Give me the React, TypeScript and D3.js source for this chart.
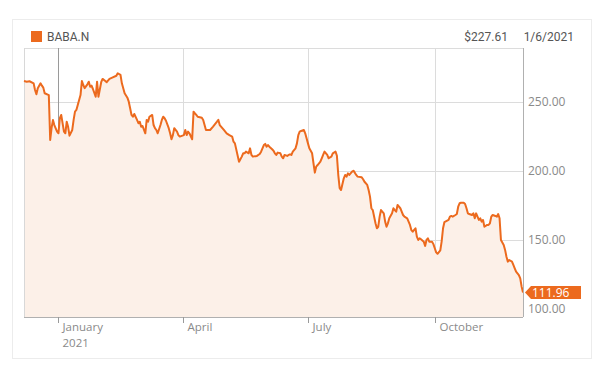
import React from 'react';
import * as d3 from 'd3';

const dates = [
  '2020-12-07','2020-12-09','2020-12-11','2020-12-14','2020-12-15','2020-12-16','2020-12-17','2020-12-19','2020-12-20','2020-12-21',
  '2020-12-22','2020-12-25','2020-12-26','2020-12-27','2020-12-28','2020-12-29','2020-12-31','2021-01-01','2021-01-02','2021-01-03',
  '2021-01-05','2021-01-06','2021-01-07','2021-01-08','2021-01-09','2021-01-11','2021-01-12','2021-01-13','2021-01-14','2021-01-15',
  '2021-01-17','2021-01-18','2021-01-19','2021-01-20','2021-01-22','2021-01-23','2021-01-24','2021-01-25','2021-01-26','2021-01-28',
  '2021-01-29','2021-01-30','2021-02-01','2021-02-02','2021-02-04','2021-02-05','2021-02-07','2021-02-09','2021-02-12','2021-02-13',
  '2021-02-15','2021-02-16','2021-02-18','2021-02-20','2021-02-21','2021-02-22','2021-02-23','2021-02-24','2021-02-25','2021-02-27',
  '2021-02-28','2021-03-01','2021-03-02','2021-03-03','2021-03-05','2021-03-06','2021-03-07','2021-03-08','2021-03-10','2021-03-11',
  '2021-03-12','2021-03-13','2021-03-14','2021-03-16','2021-03-17','2021-03-18','2021-03-19','2021-03-20','2021-03-22','2021-03-23',
  '2021-03-24','2021-03-25','2021-03-26','2021-03-28','2021-03-29','2021-03-30','2021-04-02','2021-04-03','2021-04-04','2021-04-05',
  '2021-04-06','2021-04-08','2021-04-09','2021-04-10','2021-04-11','2021-04-12','2021-04-15','2021-04-16','2021-04-17','2021-04-18',
  '2021-04-21','2021-04-23','2021-04-26','2021-04-27','2021-04-28','2021-05-01','2021-05-03','2021-05-05','2021-05-07','2021-05-08',
  '2021-05-09','2021-05-12','2021-05-14','2021-05-15','2021-05-16','2021-05-17','2021-05-19','2021-05-20','2021-05-21','2021-05-22',
  '2021-05-25','2021-05-27','2021-05-28','2021-05-30','2021-05-31','2021-06-01','2021-06-02','2021-06-03','2021-06-05','2021-06-06',
  '2021-06-07','2021-06-08','2021-06-09','2021-06-11','2021-06-12','2021-06-13','2021-06-14','2021-06-16','2021-06-17','2021-06-18',
  '2021-06-19','2021-06-20','2021-06-22','2021-06-23','2021-06-24','2021-06-25','2021-06-26','2021-06-28','2021-06-29','2021-06-30',
  '2021-07-01','2021-07-02','2021-07-04','2021-07-05','2021-07-06','2021-07-07','2021-07-08','2021-07-10','2021-07-11','2021-07-12',
  '2021-07-13','2021-07-15','2021-07-16','2021-07-17','2021-07-18','2021-07-19','2021-07-21','2021-07-22','2021-07-23','2021-07-24',
  '2021-07-25','2021-07-27','2021-07-28','2021-07-29','2021-07-30','2021-07-31','2021-08-02','2021-08-03','2021-08-04','2021-08-05',
  '2021-08-06','2021-08-09','2021-08-10','2021-08-11','2021-08-13','2021-08-14','2021-08-15','2021-08-16','2021-08-17','2021-08-19',
  '2021-08-20','2021-08-21','2021-08-22','2021-08-23','2021-08-25','2021-08-26','2021-08-27','2021-08-28','2021-08-29','2021-08-31',
  '2021-09-01','2021-09-02','2021-09-03','2021-09-04','2021-09-06','2021-09-07','2021-09-08','2021-09-09','2021-09-11','2021-09-12',
  '2021-09-13','2021-09-14','2021-09-15','2021-09-17','2021-09-18','2021-09-19','2021-09-20','2021-09-21','2021-09-23','2021-09-24',
  '2021-09-25','2021-09-26','2021-09-27','2021-09-29','2021-09-30','2021-10-01','2021-10-02','2021-10-03','2021-10-05','2021-10-06',
  '2021-10-07','2021-10-08','2021-10-10','2021-10-11','2021-10-12','2021-10-13','2021-10-14','2021-10-16','2021-10-17','2021-10-18',
  '2021-10-19','2021-10-20','2021-10-22','2021-10-23','2021-10-24','2021-10-25','2021-10-26','2021-10-28','2021-10-29','2021-10-30',
  '2021-10-31','2021-11-02','2021-11-03','2021-11-04','2021-11-05','2021-11-06','2021-11-08','2021-11-09','2021-11-10','2021-11-11',
  '2021-11-12','2021-11-14','2021-11-15','2021-11-16','2021-11-17','2021-11-18','2021-11-20','2021-11-21','2021-11-22','2021-11-23',
  '2021-11-24','2021-11-26','2021-11-27','2021-11-28','2021-11-29','2021-12-01','2021-12-02','2021-12-03','2021-12-04',
];

const prices = [
  265.2,264.7,265.0,263.5,258.7,255.6,260.0,263.5,261.8,260.4,
  256.3,255.0,222.5,231.0,237.0,233.3,228.5,227.3,238.2,240.6,
  228.5,227.3,235.7,232.0,225.6,229.7,237.0,243.0,244.2,247.8,
  255.0,265.2,262.3,260.0,262.8,264.7,261.0,261.8,259.4,253.8,
  264.7,253.8,264.3,266.7,265.2,264.3,266.7,267.6,269.0,270.8,
  269.6,263.5,256.3,253.1,250.2,245.4,240.6,239.3,241.3,237.0,
  234.6,235.7,232.0,232.6,227.3,237.0,235.7,239.3,240.6,233.3,
  231.0,229.7,227.3,233.3,237.0,239.3,238.2,236.4,231.0,227.3,
  223.0,226.0,231.0,228.5,226.0,224.9,226.0,229.7,226.0,228.5,
  227.3,223.0,243.0,241.8,240.6,239.3,238.6,237.0,233.3,229.7,
  229.7,232.0,235.7,237.0,233.3,229.7,227.3,226.0,224.9,221.2,
  220.0,206.7,210.4,212.8,212.8,214.0,212.8,216.4,211.6,210.4,
  210.9,212.3,214.0,218.8,219.6,217.6,218.8,217.6,215.7,214.7,
  212.8,211.6,213.3,212.8,210.4,209.2,211.6,210.9,211.6,212.1,
  211.6,214.0,216.4,220.0,226.0,228.5,229.0,229.7,227.3,223.7,
  220.0,216.4,212.8,205.6,198.8,203.2,204.3,206.7,209.2,211.6,
  214.0,211.6,209.2,209.9,210.4,212.8,214.0,211.0,197.0,187.5,
  186.2,194.7,197.1,195.9,198.3,197.1,199.5,200.2,198.8,197.1,
  195.9,195.4,194.0,192.2,189.9,186.2,181.4,173.0,171.7,162.1,
  158.5,159.6,166.9,171.7,169.3,163.3,159.6,162.1,165.7,169.3,
  173.0,171.7,170.5,175.4,173.0,170.5,168.1,166.9,165.7,163.3,
  160.9,157.2,156.0,158.5,152.4,150.0,151.2,150.5,148.8,145.7,
  150.0,151.2,148.8,148.8,147.0,144.0,141.0,140.0,142.5,149.0,
  158.5,163.0,164.0,164.5,166.9,167.4,166.9,168.1,168.8,174.1,
  176.6,177.0,177.0,176.1,173.0,169.3,168.8,168.1,169.3,165.7,
  169.3,164.5,165.7,163.3,164.5,159.6,160.9,160.9,162.1,166.9,
  168.1,167.4,166.9,168.8,165.7,150.0,146.4,142.8,137.9,134.3,
  135.5,134.3,131.9,129.5,127.0,124.6,122.2,116.2,111.96,
];

const yTicks = [100, 150, 200, 250];
const xTickDates = ['2021-01-01', '2021-04-01', '2021-07-01', '2021-10-01'];
const xTickLabels = [['January', '2021'], ['April'], ['July'], ['October']];
const seriesName = 'BABA.N';
const hoverPrice = '$227.61';
const hoverDate = '1/6/2021';

export default function App() {
  const parse = d3.utcParse('%Y-%m-%d');
  const data = dates.map((d, i) => ({ date: parse(d) as Date, v: prices[i] }));
  const left = 24, right = 523, top = 48, bottom = 317;
  const x = d3.scaleUtc()
    .domain(d3.extent(data, d => d.date) as [Date, Date])
    .range([left, right]);
  const y = d3.scaleLinear().domain([94.2, 289.1]).range([bottom, top]);

  const line = d3.line<{ date: Date; v: number }>()
    .x(d => x(d.date))
    .y(d => y(d.v));
  const area = d3.area<{ date: Date; v: number }>()
    .x(d => x(d.date))
    .y0(bottom)
    .y1(d => y(d.v));

  const last = data[data.length - 1];
  const ly = y(last.v);
  const orange = '#ec6a1e';
  const labelFont = "'Open Sans', 'Segoe UI', sans-serif";

  return (
    <svg width={600} height={371} style={{ position: 'absolute', left: 0, top: 0 }}>
      <rect x={0} y={0} width={600} height={371} fill="#fff" />
      <rect x={12.5} y={19.5} width={579} height={339} fill="#fff" stroke="#ececec" />
      {/* header */}
      <rect x={31} y={31} width={11} height={11} fill={orange} />
      <text x={47} y={41} fontFamily="Roboto, sans-serif" fontSize={12} fill="#555">{seriesName}</text>
      <text x={508} y={41} textAnchor="end" fontFamily="Roboto, sans-serif" fontSize={12} fill="#555">{hoverPrice}</text>
      <text x={574} y={41} textAnchor="end" fontFamily="Roboto, sans-serif" fontSize={12} fill="#555">{hoverDate}</text>

      {/* grid */}
      <rect x={left} y={top} width={right - left} height={bottom - top} fill="#fff" />
      <line x1={left} x2={right} y1={top + 0.5} y2={top + 0.5} stroke="#dcdcdc" />
      {yTicks.map(t => (
        <line key={'gy' + t} x1={left} x2={right} y1={Math.round(y(t)) + 0.5} y2={Math.round(y(t)) + 0.5} stroke="#dcdcdc" />
      ))}
      {xTickDates.map((d, i) => {
        const xx = Math.round(x(parse(d) as Date)) + 0.5;
        return <line key={'gx' + d} x1={xx} x2={xx} y1={top} y2={bottom} stroke={i === 0 ? '#9a9a9a' : '#dcdcdc'} />;
      })}

      {/* area + line */}
      <path d={area(data) || ''} fill="#fcf0e8" />
      <line x1={left + 0.5} x2={left + 0.5} y1={top} y2={bottom} stroke="#d8d8d8" />
      <path d={line(data) || ''} fill="none" stroke={orange} strokeWidth={2} strokeLinejoin="round" />

      {/* axes */}
      <line x1={left} x2={right} y1={bottom + 0.5} y2={bottom + 0.5} stroke="#b0b0b0" />
      <line x1={right + 0.5} x2={right + 0.5} y1={top} y2={bottom} stroke="#b0b0b0" />
      {xTickDates.map((d, i) => {
        const xx = Math.round(x(parse(d) as Date)) + 0.5;
        return (
          <g key={'xt' + d}>
            <line x1={xx} x2={xx} y1={bottom} y2={bottom + 6} stroke="#9a9a9a" />
            {xTickLabels[i].map((s, j) => (
              <text key={s} x={xx + 4} y={bottom + 14 + j * 16} fontFamily={labelFont} fontSize={11.5} fill="#8a8a8a">{s}</text>
            ))}
          </g>
        );
      })}
      {yTicks.map(t => (
        <text key={'yt' + t} x={528} y={y(t)} dy="0.35em" fontFamily={labelFont} fontSize={12} fill="#8a8a8a">{t.toFixed(2)}</text>
      ))}

      {/* last value label */}
      <path d={`M${right + 2},${ly} L${right + 8},${ly - 6.5} L${right + 58},${ly - 6.5} L${right + 58},${ly + 6.5} L${right + 8},${ly + 6.5} Z`} fill={orange} />
      <text x={right + 9} y={ly} dy="0.36em" fontFamily={labelFont} fontSize={12} fill="#fff">{last.v.toFixed(2)}</text>
    </svg>
  );
}
